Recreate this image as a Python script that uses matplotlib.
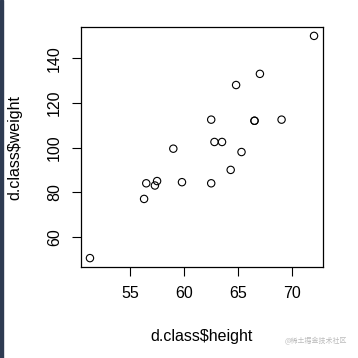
import matplotlib
matplotlib.use('Agg')
import matplotlib.pyplot as plt
from matplotlib.patches import Rectangle

# sashelp.class
height = [69.0, 56.5, 65.3, 62.8, 63.5, 57.3, 59.8, 62.5, 62.5, 59.0,
          51.3, 64.3, 56.3, 66.5, 72.0, 64.8, 67.0, 57.5, 66.5]
weight = [112.5, 84.0, 98.0, 102.5, 102.5, 83.0, 84.5, 112.5, 84.0, 99.5,
          50.5, 90.0, 77.0, 112.0, 150.0, 128.0, 133.0, 85.0, 112.0]
x_ticks = [55, 60, 65, 70]
y_ticks = [60, 80, 100, 120, 140]

plt.rcParams['font.family'] = ['Liberation Sans', 'DejaVu Sans']

W = H = 358
fig = plt.figure(figsize=(W / 100, H / 100), dpi=100)
ax = fig.add_axes([81 / W, 1 - 267 / H, (323 - 81) / W, (267 - 27) / H])

ax.scatter(height, weight, s=28, facecolors='none', edgecolors='black', linewidths=0.8)

# R style 4% padding
def pad(v):
    r = max(v) - min(v)
    return min(v) - 0.04 * r, max(v) + 0.04 * r

ax.set_xlim(*pad(height))
ax.set_ylim(*pad(weight))
ax.set_xticks(x_ticks)
ax.set_yticks(y_ticks)
ax.set_yticklabels([str(t) for t in y_ticks], rotation=90, va='center')
ax.tick_params(length=6.5, width=0.8, labelsize=11.5, pad=7, color='black')
for s in ax.spines.values():
    s.set_linewidth(0.9)

ax.set_xlabel('d.class$height', fontsize=11.5, labelpad=20)
ax.set_ylabel('d.class$weight', fontsize=11.5, labelpad=18)

# dark strip on the left edge of the screenshot
fig.patches.append(Rectangle((0, 0), 3 / W, 1, transform=fig.transFigure,
                             color='#2e3b52', zorder=10))

fig.text(347 / W, 1 - 341 / H, '@稀土掘金技术社区', ha='right', va='center',
         fontsize=5, color='#bbbbbb', family=['Noto Sans CJK SC', 'DejaVu Sans'])

fig.savefig('out.png', dpi=100)
